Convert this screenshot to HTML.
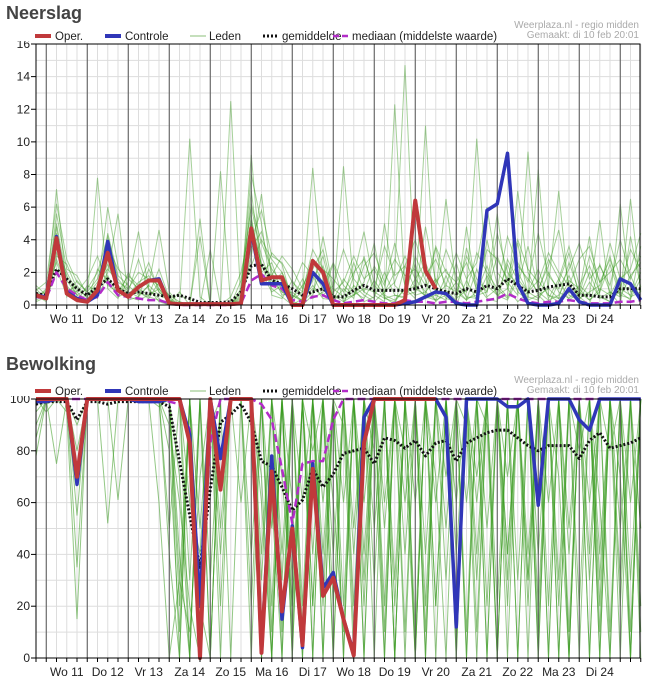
<!DOCTYPE html>
<html><head><meta charset="utf-8">
<style>
body{margin:0;background:#fff;width:650px;height:682px;overflow:hidden;font-family:"Liberation Sans",sans-serif}
svg{display:block}
</style></head>
<body>
<svg id="root" width="650" height="682"></svg>
<script>
const days=["Wo 11","Do 12","Vr 13","Za 14","Zo 15","Ma 16","Di 17","Wo 18","Do 19","Vr 20","Za 21","Zo 22","Ma 23","Di 24"];
// ---- Neerslag (mm), 6-hourly, index 0 = di 10 18:00
const rainOper=[0.6,0.4,4.1,0.7,0.3,0.2,0.9,3.2,0.9,0.5,1.1,1.5,1.5,0.1,0.05,0.05,0.05,0.05,0.05,0.05,0.1,4.7,1.5,1.7,1.7,0,0,2.7,2.0,0,0,0,0,0,0,0,0.3,6.4,2.1,1.0];
const rainCtrl=[0.6,0.5,4.2,0.8,0.4,0.2,0.6,3.9,0.9,0.5,1.1,1.5,1.6,0.1,0.05,0.05,0.05,0.05,0.05,0.05,0.1,4.5,1.3,1.3,1.3,0,0,2.0,1.3,0,0,0,0,0,0,0,0.1,0.2,0.5,0.8,0.7,0.1,0,0,5.8,6.2,9.3,1.3,0.1,0,0,0.1,1.0,0.2,0,0,0,1.6,1.3,0.3];
const rainMean=[0.7,0.6,2.2,1.6,1.0,0.6,1.1,1.6,1.0,0.7,0.8,0.7,0.6,0.5,0.6,0.4,0.15,0.15,0.15,0.2,0.8,2.4,2.5,1.5,1.3,1.0,0.6,0.8,1.0,0.5,0.5,0.9,1.2,0.9,0.9,0.9,0.9,1.0,1.2,1.0,0.8,0.7,1.0,0.8,1.2,1.0,1.6,1.2,0.8,0.9,1.1,1.2,1.3,0.6,0.6,0.5,0.5,1.0,1.0,1.0];
const rainMedian=[0.5,0.4,2.0,1.0,0.6,0.3,0.5,1.4,0.6,0.5,0.4,0.3,0.3,0.1,0,0,0,0,0,0,0.1,1.5,1.9,1.2,1.0,0.3,0.2,0.5,0.6,0.3,0.1,0.2,0.3,0.2,0.1,0.1,0.3,0.2,0.2,0.1,0.2,0.2,0.1,0.2,0.3,0.4,0.7,0.4,0.2,0.1,0.2,0.2,0.3,0.2,0.1,0.1,0.1,0.2,0.2,0.3];
const rainM1=[0.5,0.8,5.0,1.5,0.6,0.3,1.2,2.5,1.0,0.6,1.4,1.8,0.8,0.2,0,0,0,0,0,0,1.5,6.0,3.0,1.2,2.0,0.6,0.3,1.5,3.0,0.4,0,1.8,4.5,1.2,0.5,0,2.4,1.0,0.6,3.5,0.8,0,1.5,0.3,4.0,1.2,0.5,7.0,2.0,0.6,0,1.4,3.2,0.5,0,2.5,0.8,0,4.2,1.1];
const rainM2=[1.0,0.3,3.0,2.5,1.0,0.5,7.8,1.0,0.4,2.0,0.8,0.5,0.3,0,0,10.2,0.5,0,0,0,0.5,9.2,2.0,0.8,1.2,0.4,1.6,0.4,0.8,2.5,0.2,0.6,1.4,3.8,0.4,0.2,1.0,0.4,11.0,0.6,0.3,2.6,0.4,0.6,1.2,5.6,1.0,0.2,0.8,2.2,0.4,1.6,0.3,0.8,4.2,0.6,0.2,1.0,0.6,2.0];
const rainM3=[0.3,0.6,4.4,0.5,1.5,0.8,0.4,4.4,1.8,1.2,0.6,1.2,4.6,0.8,0,0,0,0.2,0,12.5,0,3.5,4.5,2.0,0.6,0.8,0.2,2.0,1.0,0.3,8.5,1.0,0.2,0.5,2.0,0.6,0.4,3.0,1.5,0.2,0.9,0.3,3.5,1.2,0.4,0.2,2.8,1.5,0.4,8.3,0.6,0.2,1.5,1.0,0.3,0.8,2.5,0.5,1.8,0.4];
const rainM4=[0.8,0.4,7.1,1.0,0.2,1.2,0.8,2.0,5.6,0.5,0.3,0.6,1.0,0.1,0.8,0,4.2,0,0,0,0.3,5.5,1.2,3.2,2.5,0.2,0,0.6,4.2,1.0,0.5,2.6,0.8,0.4,5.0,1.2,0.6,0.8,2.2,0.8,6.5,1.0,0.3,0.8,2.4,0.6,1.0,3.8,0.5,0.3,2.0,0.8,0.4,1.2,0.6,5.2,0.4,0.8,0.3,3.6];
const rainM5=[0.4,1.0,3.5,2.0,0.8,0.2,2.2,1.5,0.5,0.8,2.8,0.9,0.4,0,0,0,0,0,8.2,0,0.8,8.0,5.0,0.6,0.4,1.5,0.4,1.0,0.6,0.2,1.0,0.4,3.0,0.6,0.2,12.3,0.8,1.2,0.5,0.3,1.8,0.4,0.9,10.2,1.2,0.6,0.3,1.6,0.8,0.4,1.2,7.0,0.6,0.3,1.4,0.5,0.2,6.2,0.8,1.0];
const rainM6=[0.6,0.2,2.8,1.2,0.4,0.6,1.0,6.0,2.4,0.3,0.5,1.2,0.6,0.3,0,0,0,0,0,0,0.2,3.0,6.8,1.5,0.8,0.3,0.8,8.4,1.5,0.6,0.2,1.2,0.6,0.2,0.8,2.0,14.7,0.6,0.8,1.6,0.4,0.2,4.8,0.6,0.8,3.0,1.4,0.6,9.4,0.8,0.3,0.6,1.8,0.4,0.8,1.2,3.0,0.6,0.4,1.6];
const rainM7=[0.2,0.5,4.8,0.8,1.2,0.4,0.5,1.8,0.6,1.4,4.5,1.0,0.2,0,0.2,0,0,0,0,0.5,2.0,5.0,2.5,1.0,0.5,0,0.4,1.2,0.4,0.3,1.6,0.8,0.4,1.5,0.6,0.3,1.0,2.5,0.4,0.6,1.2,0.8,0.3,2.2,0.5,1.0,0.4,2.0,0.8,1.5,0.6,0.4,2.6,0.8,0.3,1.0,0.6,1.8,0.5,0.8];
const rainM8=[0.7,0.3,2.2,0.6,0.3,0.4,0.6,2.8,1.2,0.6,0.8,0.4,1.4,0.5,0,0,0,0,0,0,0.6,7.0,2.0,2.6,0.8,0.6,0.2,0.8,2.4,0.6,0.4,0.6,1.0,0.8,0.4,0.6,0.5,1.6,0.8,0.3,0.6,1.4,0.5,0.4,1.8,0.6,2.5,0.8,0.3,0.6,1.0,0.4,0.8,0.5,2.0,0.4,0.8,0.5,6.5,0.8];
const rainM9=[1.2,0.6,3.2,1.8,0.6,1.0,2.0,4.2,1.6,0.8,0.5,2.2,1.0,0.2,0,0,5.3,0,0,0,1.0,6.2,3.8,2.2,1.4,1.0,2.6,1.8,0.6,1.2,3.4,1.6,0.8,2.4,1.2,3.8,1.2,0.6,4.8,1.4,2.2,0.8,3.0,1.6,0.8,4.4,2.0,1.2,3.6,1.0,2.4,4.6,1.2,0.6,3.0,1.4,2.8,1.0,3.4,2.2];
const rainM10=[0.9,1.4,6.2,2.8,1.4,0.8,1.6,3.6,2.2,1.6,1.0,0.6,2.2,0.4,0,0,0,3.4,0,0,0.4,4.0,5.8,3.0,2.6,1.4,0.8,3.4,2.2,1.6,0.8,2.0,2.8,1.0,3.6,1.8,2.4,4.0,1.8,2.8,1.2,3.2,1.6,2.6,6.0,2.0,1.2,2.6,1.4,4.4,1.8,1.0,2.2,3.8,1.6,2.4,1.2,4.0,1.8,2.6];
const rainM11=[0.4,0.9,2.6,1.0,0.8,1.6,3.0,1.2,0.8,1.8,1.2,2.6,0.8,0.3,0,0,0,0,0,0,0.8,2.4,4.0,2.8,2.0,0.4,1.2,2.2,3.4,0.8,1.4,3.0,1.6,2.2,0.8,1.4,3.0,1.6,2.6,1.0,3.4,1.8,0.8,3.2,2.0,1.0,4.2,2.4,1.6,0.8,2.8,1.6,3.6,1.2,2.4,0.8,3.8,1.6,2.2,4.4];
const rainM12=[0.6,0.4,5.6,2.2,1.8,0.6,1.4,2.2,1.4,1.0,2.0,1.6,1.2,0.6,0.2,0,0,0,0,0,0,5.2,2.4,1.8,3.0,2.2,1.0,2.8,1.2,2.6,1.2,0.6,2.4,3.2,1.4,2.8,1.8,2.2,1.2,3.6,2.0,1.4,2.6,1.0,3.4,2.8,1.6,4.0,2.2,1.4,3.2,2.0,1.2,2.8,3.6,1.4,2.0,2.8,1.6,3.0];
const cloudOper=[100,100,100,100,70,100,100,100,100,100,100,100,100,100,100,83,0,100,65,100,100,100,2,72,18,50,5,73,24,31,15,1,83,100,100,100,100,100,100,100];
const cloudCtrl=[99,99,100,100,67,100,100,100,100,100,99,99,99,100,100,86,20,100,77,100,100,100,2,78,15,51,4,75,27,33,15,2,93,100,100,100,100,100,100,100,93,12,100,100,100,100,97,97,100,59,100,100,100,92,88,100,100,100,100,100];
const cloudMean=[98,99,99,99,92,99,99,98,99,99,99,99,99,97,76,55,35,65,91,94,98,91,76,74,66,57,61,73,66,71,79,80,81,75,85,84,81,84,78,83,84,76,83,85,87,88,88,85,82,80,82,82,82,77,84,87,81,82,83,85];
const cloudMedian=[100,100,100,100,100,100,100,100,100,100,100,100,100,99,98,88,24,83,100,100,100,100,98,92,73,52,75,76,76,92,100,100,100,100,100,100,100,100,100,100,100,100,100,100,100,100,100,100,100,100,100,100,100,100,100,100,100,100,100,100];
const cloudM1=[100,95,100,100,80,100,100,100,100,100,100,100,100,90,60,20,0,100,100,100,100,100,30,100,70,20,100,40,100,60,10,100,100,80,0,100,100,60,100,20,100,100,90,0,100,100,70,100,30,100,100,0,100,80,100,20,100,100,60,100];
const cloudM2=[90,100,100,100,100,100,100,52,100,100,100,100,100,100,100,30,100,0,100,100,60,100,100,10,100,0,100,100,20,100,90,0,100,100,50,100,10,100,100,70,0,100,100,30,100,100,0,100,100,60,100,20,100,100,0,100,80,100,10,100];
const cloudM3=[100,100,75,100,35,100,100,100,61,100,100,100,100,40,0,100,10,100,50,100,100,0,100,100,40,100,0,100,60,100,100,100,30,100,100,0,100,100,40,100,100,20,100,100,90,0,100,100,100,10,100,100,50,100,100,0,100,100,30,100];
const cloudM4=[78,100,100,100,100,100,100,100,100,100,100,100,97,100,20,100,0,90,100,100,100,100,70,0,100,30,100,20,100,100,0,100,60,100,100,20,100,100,0,100,70,100,100,40,100,0,100,100,20,100,100,70,0,100,100,40,100,100,0,100];
const cloudM5=[100,100,100,95,15,100,100,100,100,100,100,100,100,100,100,60,40,100,100,100,100,100,0,60,0,100,20,100,0,100,100,40,100,0,100,100,80,0,100,100,30,100,0,100,100,100,40,100,100,0,100,100,100,20,100,100,10,100,100,50];
const cloudM6=[100,100,100,100,100,100,100,100,100,100,100,100,60,0,30,10,70,100,0,100,100,100,100,50,100,0,100,80,100,20,100,100,0,100,60,100,100,10,100,100,100,0,100,60,100,20,100,100,40,100,0,100,100,100,30,100,100,0,100,100];
const cloudM7=[85,100,100,100,100,100,100,100,100,100,100,100,100,100,70,0,100,100,40,100,100,100,100,100,0,100,100,0,100,40,100,20,100,100,10,100,40,100,100,0,100,100,60,100,0,100,100,30,100,100,0,100,40,100,100,60,0,100,100,20];
const cloudM8=[100,100,100,100,55,100,100,100,100,100,100,100,100,100,0,100,20,0,100,100,100,40,100,20,100,100,10,100,30,100,0,100,100,50,100,0,100,100,20,100,100,60,100,10,100,100,40,100,0,100,100,30,100,100,0,100,100,70,0,100];
const cloudM9=[100,100,100,100,100,100,100,100,100,100,100,100,100,80,10,100,0,100,100,100,100,100,0,100,100,20,100,100,0,100,60,100,20,100,100,0,100,0,100,60,100,10,100,100,20,100,100,0,100,40,100,100,10,100,100,0,100,30,100,100];
const cloudM10=[100,98,100,100,100,100,100,100,100,100,100,100,100,100,40,0,100,0,100,100,100,100,60,0,100,10,100,0,100,100,20,100,0,100,100,30,100,100,0,100,100,0,100,70,100,100,20,100,100,0,100,100,0,100,60,100,100,20,100,0];
const cloudM11=[100,100,100,100,100,100,100,100,100,100,100,100,100,50,100,0,100,30,100,100,100,20,100,100,10,100,60,100,100,0,100,50,100,100,0,100,60,100,10,100,100,40,100,100,0,100,30,100,100,20,100,0,100,100,40,100,0,100,100,10];
const cloudM12=[100,100,100,100,90,100,100,100,100,100,100,100,100,100,30,100,50,100,20,100,100,100,100,0,100,60,0,100,40,100,100,10,100,30,100,100,0,100,100,20,100,100,0,100,50,100,100,0,100,100,20,100,100,0,100,30,100,100,0,100];
const cloudM13=[95,100,100,100,100,100,100,100,100,100,100,100,100,100,100,100,0,100,100,0,100,100,40,100,30,100,100,20,100,0,100,100,40,100,20,100,100,0,100,100,50,100,10,100,100,0,100,100,30,100,60,100,0,100,100,10,100,50,100,100];

const SVGNS="http://www.w3.org/2000/svg";
const root=document.getElementById('root');
function mk(tag,attrs,parent){const e=document.createElementNS(SVGNS,tag);for(const k in attrs)e.setAttribute(k,attrs[k]);(parent||root).appendChild(e);return e;}
const X0=36,STEP=10.25,X1=640;
function xs(i){return X0+STEP*i;}

function chart(o){
  const g=mk('g',{});
  
  
  const ys=v=>o.y0-(v/o.max)*(o.y0-o.y1);
  const t=mk('text',{x:6,y:o.titleY,'font-size':18,'font-weight':'bold',fill:'#444'},g);
  t.textContent=o.title;
  
  
  for(let v=0;v<=o.max;v+=o.grid){mk('line',{x1:X0,x2:X1,y1:ys(v),y2:ys(v),stroke:'#ddd','stroke-width':1},g);}
  for(let i=0;i<60;i++){mk('line',{x1:xs(i),x2:xs(i),y1:o.y1,y2:o.y0,stroke:'#ddd','stroke-width':1},g);}
  o.members.forEach((m)=>{
    const p=mk('polyline',{points:m.map((v,i)=>xs(i)+','+ys(v)).join(' '),fill:'none',stroke:o.memberColor,'stroke-width':1,'stroke-opacity':o.memberOpacity},g);
    
    
  });
  for(let d=0;d<=14;d++){const x=xs(1+4*d);mk('line',{x1:x,x2:x,y1:o.y1,y2:o.y0,stroke:'#555','stroke-width':1},g);}
  function ser(arr,col,w,dash,nm){
    const p=mk('polyline',{points:arr.map((v,i)=>xs(i)+','+ys(v)).join(' '),fill:'none',stroke:col,'stroke-width':w,'stroke-linejoin':'round'},g);
    if(dash)p.setAttribute('stroke-dasharray',dash);
    
    
  }
  ser(o.mean,'#111',3,'2,2',o.name+'-mean-line');
  ser(o.median,'#b22cc8',2.5,'8,4',o.name+'-median-line');
  ser(o.ctrl,'#3036b8',3.5,null,o.name+'-controle-line');
  ser(o.oper,'#c0393b',4,null,o.name+'-oper-line');
  mk('rect',{x:X0,y:o.y1,width:X1-X0,height:o.y0-o.y1,fill:'none',stroke:'#000','stroke-width':1},g);
  for(let i=0;i<60;i++){mk('line',{x1:xs(i),x2:xs(i),y1:o.y0,y2:o.y0+4,stroke:'#000'},g);}
  for(let v=0;v<=o.max;v+=o.tick){
    mk('line',{x1:X0-5,x2:X0,y1:ys(v),y2:ys(v),stroke:'#000'},g);
    const tl=mk('text',{x:X0-6,y:ys(v)+4,'font-size':12,'text-anchor':'end',fill:'#222'},g);
    tl.textContent=v;
    
    
  }
  days.forEach((d,k)=>{
    const tl=mk('text',{x:xs(3+4*k),y:o.y0+18,'font-size':12,'text-anchor':'middle',fill:'#222'},g);
    tl.textContent=d;
    
    
  });
  const ly=o.y1-6;
  const lg=mk('g',{},g);
  
  
  mk('rect',{x:0,y:ly-8,width:650,height:11,fill:'#fff'},lg);
  const items=[[35,'#c0393b',4,null,'Oper.',55],[105,'#3036b8',4,null,'Controle',125],[190,'#8bbf7a',1,null,'Leden',209],[263,'#111',3,'2,2','gemiddelde',282],[333,'#b22cc8',2.5,'6,3','mediaan (middelste waarde)',352]];
  items.forEach(it=>{
    const l=mk('line',{x1:it[0],x2:it[0]+16,y1:ly-2,y2:ly-2,stroke:it[1],'stroke-width':it[2]},lg);
    if(it[3])l.setAttribute('stroke-dasharray',it[3]);
    const tx=mk('text',{x:it[5],y:ly+2,'font-size':11.5,fill:'#222'},lg);
    tx.textContent=it[4];
    
    
  });
  const s1=mk('text',{x:639,y:ly-10,'font-size':10,'text-anchor':'end',fill:'#aaa'},g);
  s1.textContent='Weerplaza.nl - regio midden';
  
  
  const s2=mk('text',{x:639,y:ly,'font-size':10,'text-anchor':'end',fill:'#aaa'},g);
  s2.textContent='Gemaakt: di 10 feb 20:01';
  
  
}
chart({name:'neerslag',title:'Neerslag',titleY:19,y0:305,y1:44,max:16,grid:1,tick:2,
  members:[rainM1,rainM2,rainM3,rainM4,rainM5,rainM6,rainM7,rainM8,rainM9,rainM10,rainM11,rainM12],memberColor:'#3a9a20',memberOpacity:0.45,
  oper:rainOper,ctrl:rainCtrl,mean:rainMean,median:rainMedian});
chart({name:'bewolking',title:'Bewolking',titleY:370,y0:658,y1:399,max:100,grid:10,tick:20,
  members:[cloudM1,cloudM2,cloudM3,cloudM4,cloudM5,cloudM6,cloudM7,cloudM8,cloudM9,cloudM10,cloudM11,cloudM12,cloudM13],memberColor:'#3a9a20',memberOpacity:0.55,
  oper:cloudOper,ctrl:cloudCtrl,mean:cloudMean,median:cloudMedian});
</script>
</body></html>
